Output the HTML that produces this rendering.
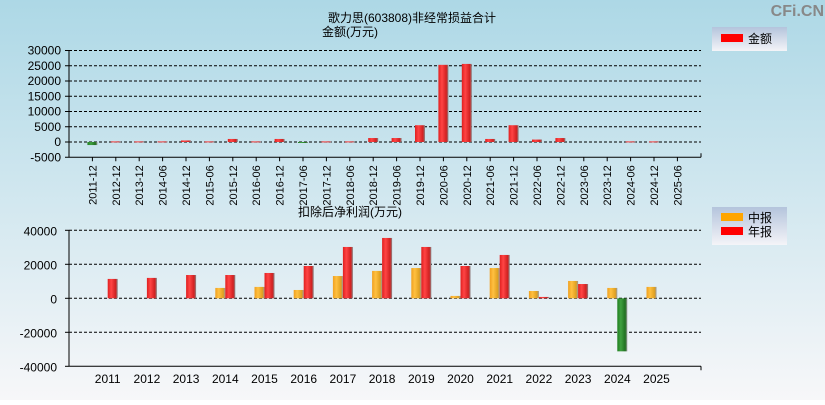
<!DOCTYPE html>
<html><head><meta charset="utf-8"><style>
body{margin:0;width:825px;height:400px;overflow:hidden;font-family:"Liberation Sans","Noto Sans CJK SC",sans-serif}
svg text{font-family:"Liberation Sans","Noto Sans CJK SC",sans-serif}
</style></head><body>
<svg id="c" width="825" height="400" xmlns="http://www.w3.org/2000/svg">
<defs>
<linearGradient id="bg" x1="0" y1="0" x2="0" y2="1"><stop offset="0" stop-color="#add8e6"/><stop offset="1" stop-color="#f7f7f9"/></linearGradient>
<linearGradient id="red" x1="0" x2="1"><stop offset="0" stop-color="#e02020"/><stop offset="0.35" stop-color="#ff4444"/><stop offset="0.8" stop-color="#d02020"/><stop offset="1" stop-color="#888"/></linearGradient>
<linearGradient id="yel" x1="0" x2="1"><stop offset="0" stop-color="#f0a020"/><stop offset="0.35" stop-color="#ffc040"/><stop offset="0.8" stop-color="#e0a020"/><stop offset="1" stop-color="#999"/></linearGradient>
<linearGradient id="grn" x1="0" x2="1"><stop offset="0" stop-color="#208020"/><stop offset="0.35" stop-color="#40a040"/><stop offset="0.8" stop-color="#207020"/><stop offset="1" stop-color="#999"/></linearGradient>
<linearGradient id="lg" x1="0" y1="0" x2="0" y2="1"><stop offset="0" stop-color="#b4c4dc"/><stop offset="1" stop-color="#f4f4f8"/></linearGradient>
</defs>
<rect width="825" height="400" fill="url(#bg)"/>
<text x="824" y="16" text-anchor="end" font-size="16" font-weight="bold" fill="#888">CFi.CN</text>
<text x="412" y="22" text-anchor="middle" font-size="12">歌力思(603808)非经常损益合计</text>
<text x="350" y="36" text-anchor="middle" font-size="12">金额(万元)</text>
<text x="350" y="216" text-anchor="middle" font-size="12">扣除后净利润(万元)</text>
<g><rect x="712" y="27" width="75" height="24" fill="url(#lg)"/><rect x="721" y="34" width="22" height="8" fill="red"/><text x="748" y="43" font-size="12">金额</text></g>
<g><rect x="712" y="207" width="75" height="38" fill="url(#lg)"/><rect x="721" y="213" width="22" height="8" fill="orange"/><text x="748" y="222" font-size="12">中报</text><rect x="721" y="227" width="22" height="8" fill="red"/><text x="748" y="236" font-size="12">年报</text></g>
<g id="top"></g><g id="bot"></g>
</svg>
<script>
const topCats=["2011-12","2012-12","2013-12","2014-06","2014-12","2015-06","2015-12","2016-06","2016-12","2017-06","2017-12","2018-06","2018-12","2019-06","2019-12","2020-06","2020-12","2021-06","2021-12","2022-06","2022-12","2023-06","2023-12","2024-06","2024-12","2025-06"];
const topVals=[-1000,200,200,200,500,200,1000,200,1000,-300,200,200,1300,1300,5500,25300,25600,1000,5500,800,1300,0,0,200,200,0];
const topTicks=[30000,25000,20000,15000,10000,5000,0,-5000];
const years=["2011","2012","2013","2014","2015","2016","2017","2018","2019","2020","2021","2022","2023","2024","2025"];
const interim=[null,null,null,6100,6700,4900,13100,16100,17800,1400,17800,4300,10200,6100,6700];
const annual=[11400,12000,13700,13700,14900,19000,30200,35500,30200,19000,25500,800,8400,-31200,null];
const botTicks=[40000,20000,0,-20000,-40000];
const NS="http://www.w3.org/2000/svg";
function mk(p,t,a){const e=document.createElementNS(NS,t);for(const k in a)e.setAttribute(k,a[k]);p.appendChild(e);return e;}
const X0=69,X1=701;
// top
const T=document.getElementById('top');
const ty=v=>142-(v/5000)*15.25;
const tx=i=>92.4+i*23.4;
topTicks.forEach(v=>{
 if(v!==-5000){const g=mk(T,'line',{x1:X0,x2:X1,y1:ty(v),y2:ty(v),stroke:'#000','stroke-dasharray':'3,2'});}
 const t=mk(T,'text',{x:X0-8,y:ty(v)+4,'text-anchor':'end','font-size':'12'});t.textContent=v;
 
 mk(T,'line',{x1:X0-4,x2:X0,y1:ty(v),y2:ty(v),stroke:'#000'});
});
mk(T,'line',{x1:X0,x2:X0,y1:ty(30000),y2:ty(-5000),stroke:'#000'});
mk(T,'line',{x1:X0,x2:X1,y1:ty(-5000),y2:ty(-5000),stroke:'#000'});
mk(T,'line',{x1:X1,x2:X1,y1:ty(-5000),y2:ty(-5000)-4,stroke:'#000'});
topCats.forEach((c,i)=>{
 const x=tx(i),v=topVals[i];
 if(v!==0){const y0=ty(0),y1=ty(v);const r=mk(T,'rect',{x:x-5,y:Math.min(y0,y1),width:10,height:Math.max(1,Math.abs(y1-y0)),fill:v<0?'url(#grn)':'url(#red)'});
 }
 mk(T,'line',{x1:x,x2:x,y1:ty(-5000),y2:ty(-5000)+4,stroke:'#000'});
 const t=mk(T,'text',{x:0,y:0,'text-anchor':'end','font-size':'11',transform:`translate(${x+4},${ty(-5000)+8}) rotate(-90)`});t.textContent=c;
 
});
// bottom
const B=document.getElementById('bot');
const by=v=>298.3-(v/20000)*34;
const bx=i=>107.7+i*39.2;
botTicks.forEach(v=>{
 if(v!==-40000){const g=mk(B,'line',{x1:X0,x2:X1,y1:by(v),y2:by(v),stroke:'#000','stroke-dasharray':'3,2'});}
 const t=mk(B,'text',{x:X0-12,y:by(v)+5,'text-anchor':'end','font-size':'12'});t.textContent=v;
 
 mk(B,'line',{x1:X0-4,x2:X0,y1:by(v),y2:by(v),stroke:'#000'});
});
mk(B,'line',{x1:X0,x2:X0,y1:by(40000),y2:by(-40000),stroke:'#000'});
mk(B,'line',{x1:X0,x2:X1,y1:by(-40000),y2:by(-40000),stroke:'#000'});
mk(B,'line',{x1:X1,x2:X1,y1:by(-40000),y2:by(-40000)+4,stroke:'#000'});
years.forEach((yr,i)=>{
 const x=bx(i);
 [[interim[i],x-10,'url(#yel)','interim'],[annual[i],x,'url(#red)','annual']].forEach(([v,l,f,n])=>{
  if(v===null)return;const y0=by(0),y1=by(v);
  const r=mk(B,'rect',{x:l,y:Math.min(y0,y1),width:10,height:Math.max(1,Math.abs(y1-y0)),fill:v<0?'url(#grn)':f});
  
 });
 const t=mk(B,'text',{x:x,y:383,'text-anchor':'middle','font-size':'12'});t.textContent=yr;
 
});
</script>
</body></html>
